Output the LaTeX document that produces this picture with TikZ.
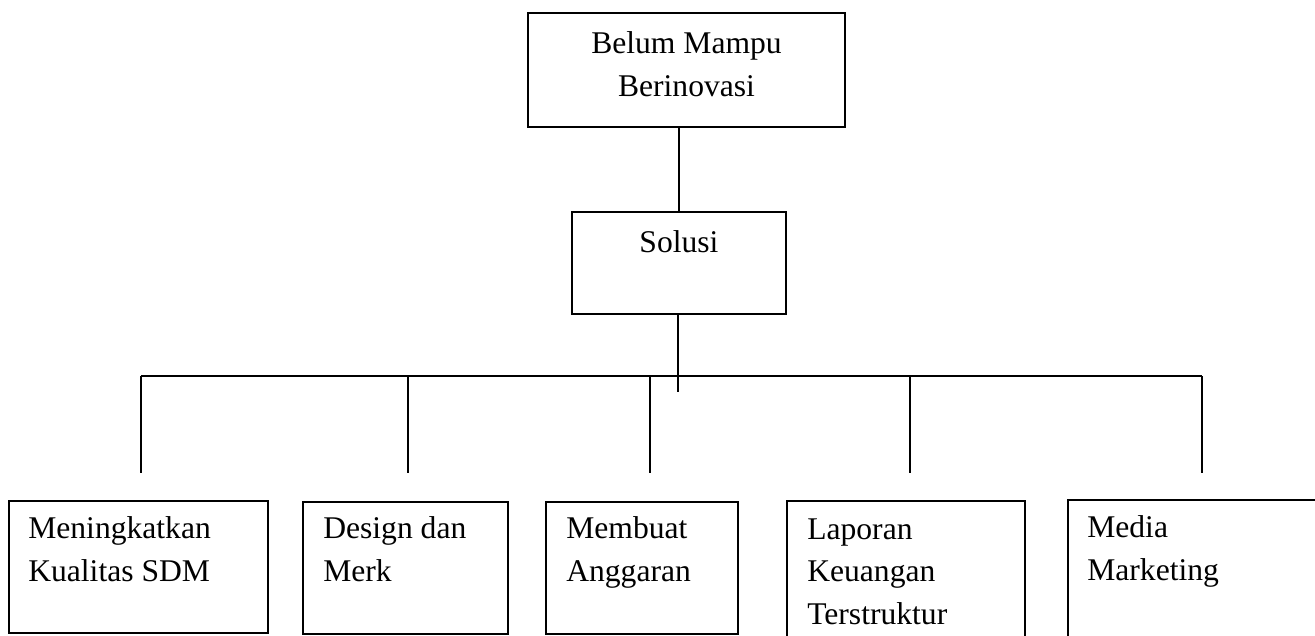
\documentclass[tikz,border=0pt]{standalone}
\usepackage{fontspec}
\setmainfont{Liberation Serif}
\tikzset{
  kotak/.style={draw, line width=1.8pt, rectangle, inner sep=0pt},
  isi/.style={inner sep=0pt, align=left, font=\fontsize{31.6}{42.5}\selectfont},
  garis/.style={line width=1.8pt}
}
\begin{document}
\begin{tikzpicture}[x=1pt,y=-1pt]
	\useasboundingbox (0,0) rectangle (1315,636);
	\clip (0,0) rectangle (1315,636);
	% kotak atas
	\node[kotak, minimum width=317, minimum height=114] (masalah) at (686.5,70) {};
	\node[isi, align=center, anchor=base] (tmasalah) at ([shift={(0,84)}]masalah.north) {Belum Mampu\\Berinovasi};
	\node[kotak, minimum width=214, minimum height=102] (solusi) at (679,263) {};
	\node[isi, anchor=base] (tsolusi) at ([shift={(0,41)}]solusi.north) {Solusi};
	% kotak bawah
	\node[kotak, minimum width=259, minimum height=132] (k1) at (138.5,567) {};
	\node[kotak, minimum width=205, minimum height=132] (k2) at (405.5,568) {};
	\node[kotak, minimum width=192, minimum height=132] (k3) at (642,568) {};
	\node[kotak, minimum width=238, minimum height=160] (k4) at (906,581) {};
	\node[kotak, minimum width=262, minimum height=160] (k5) at (1199,580) {};
	\node[isi, anchor=base west] (t1) at ([shift={(20,81)}]k1.north west) {Meningkatkan\\Kualitas SDM};
	\node[isi, anchor=base west] (t2) at ([shift={(21,80)}]k2.north west) {Design dan\\Merk};
	\node[isi, anchor=base west] (t3) at ([shift={(21,80)}]k3.north west) {Membuat\\Anggaran};
	\node[isi, anchor=base west] (t4) at ([shift={(21,124)}]k4.north west) {Laporan\\Keuangan\\Terstruktur};
	\node[isi, anchor=base west] (t5) at ([shift={(20,81)}]k5.north west) {Media\\Marketing};
	% garis penghubung
	\draw[garis] (solusi.north |- masalah.south) -- (solusi.north);
	\coordinate (ujung) at (678,392);
	\draw[garis] (solusi.south -| ujung) -- (ujung);
	\coordinate (kiri) at (141,376);
	\coordinate (kanan) at (1202,376);
	\draw[garis] (kiri) -- (kanan);
	\foreach \x [count=\i] in {141,408,650,910,1202}{
		\coordinate (a\i) at (\x,376);
		\coordinate (b\i) at (\x,473);
		\draw[garis] (a\i) -- (b\i);
	}
\end{tikzpicture}
\end{document}
